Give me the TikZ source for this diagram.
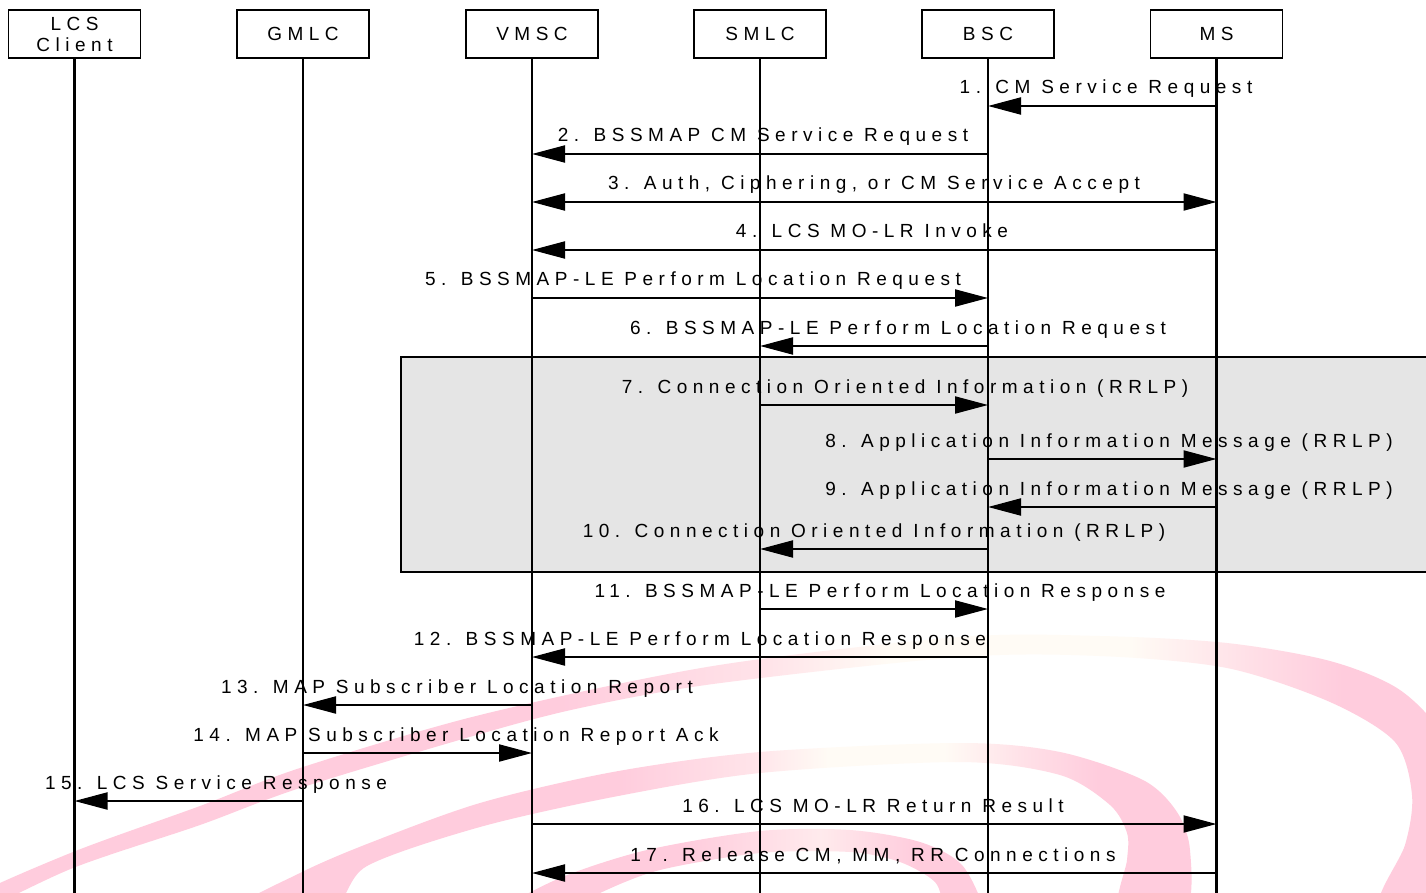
\documentclass[tikz,border=0pt]{standalone}
\usepackage{fontspec}
\setmainfont{Liberation Sans}[LetterSpace=29]
\usetikzlibrary{arrows.meta}

\definecolor{swpink}{RGB}{255,204,221}
\definecolor{swcream}{RGB}{255,251,245}
\definecolor{boxgrey}{RGB}{229,229,229}

% colour runs for the three watermark swooshes (left to right)
\pgfdeclarehorizontalshading{swooshouter}{100bp}{color(0bp)=(swpink); color(25bp)=(swpink); color(45bp)=(swpink); color(52bp)=(swpink!50!swcream); color(56bp)=(swcream); color(64bp)=(swcream); color(68bp)=(swpink!60!swcream); color(71bp)=(swpink); color(100bp)=(swpink)}
\pgfdeclarehorizontalshading{swooshmiddle}{100bp}{color(0bp)=(swpink); color(25bp)=(swpink); color(45bp)=(swpink); color(52bp)=(swpink!50!swcream); color(56bp)=(swcream); color(62bp)=(swcream); color(66bp)=(swpink!55!swcream); color(70bp)=(swpink); color(100bp)=(swpink)}
\pgfdeclarehorizontalshading{swooshinner}{100bp}{color(0bp)=(swpink); color(25bp)=(swpink); color(44bp)=(swpink); color(58bp)=(swpink!35!swcream); color(68bp)=(swpink); color(100bp)=(swpink)}

\begin{document}
\begin{tikzpicture}[x=1pt,y=-1pt,
  hdr/.style={draw, line width=1.8pt, fill=white, minimum width=132pt,
    minimum height=48pt, inner sep=0pt, align=center,
    font=\fontsize{19}{23}\selectfont},
  life/.style={line width=2.2pt},
  msg/.style={line width=2pt, -{Triangle[length=33pt,width=17pt]}},
  dmsg/.style={line width=2pt, {Triangle[length=33pt,width=17pt]}-{Triangle[length=33pt,width=17pt]}},
  lbl/.style={anchor=base, inner sep=0pt, font=\fontsize{19}{22}\selectfont}]

\useasboundingbox (0,0) rectangle (1426,893);
\begin{scope}
\clip (0,0) rectangle (1426,893);
\fill[white] (0,0) rectangle (1426,893);

% watermark swooshes
\shade[shading=swooshouter] plot[smooth cycle] coordinates {
  (-35,900) (73,852) (200,806) (300,768) (480,715) (713,666) (960,637)
  (1100,636) (1227,643) (1330,661) (1400,690) (1445,740) (1462,820) (1452,905)
  (1380,905) (1405,845) (1412,795) (1395,742) (1330,702) (1227,668)
  (1100,656) (960,657) (713,684) (580,708) (480,734) (300,788) (200,825)
  (73,868) (-35,918)};
\shade[shading=swooshmiddle] plot[smooth cycle] coordinates {
  (235,910) (300,873) (367,844) (480,803) (613,772) (760,752) (960,743)
  (1060,752) (1143,780) (1177,812) (1190,850) (1185,910)
  (1120,910) (1127,860) (1127,833) (1110,805) (1060,775) (960,762)
  (760,773) (613,797) (480,827) (367,866) (330,910)};
\shade[shading=swooshinner] plot[smooth cycle] coordinates {
  (505,910) (560,878) (647,850) (760,831) (850,830) (920,842) (962,865)
  (982,910) (948,910) (935,882) (900,862) (850,852) (760,853) (660,870)
  (600,893) (570,912)};

% grey frame around the RRLP exchange
\draw[line width=1.8pt, fill=boxgrey] (401,357) rectangle (1440,572);

% entities
\node[hdr] (lcs)  at (74.5,34) {LCS\\[-2pt]Client};
\node[hdr] (gmlc) at (303,34)  {GMLC};
\node[hdr] (vmsc) at (532,34)  {VMSC};
\node[hdr] (smlc) at (760,34)  {SMLC};
\node[hdr] (bsc)  at (988,34)  {BSC};
\node[hdr] (ms)   at (1216.5,34) {MS};

% lifelines
\coordinate (bottom) at (0,900);
\foreach \e in {lcs,gmlc,vmsc,smlc,bsc,ms}
  \draw[life] (\e.south) -- (\e.south |- bottom);

% message rows
\coordinate (r1) at (0,106);
\coordinate (r2) at (0,154);
\coordinate (r3) at (0,202);
\coordinate (r4) at (0,250);
\coordinate (r5) at (0,298);
\coordinate (r6) at (0,346);
\coordinate (r7) at (0,405);
\coordinate (r8) at (0,459);
\coordinate (r9) at (0,507);
\coordinate (r10) at (0,549);
\coordinate (r11) at (0,609);
\coordinate (r12) at (0,657);
\coordinate (r13) at (0,705);
\coordinate (r14) at (0,753);
\coordinate (r15) at (0,801);
\coordinate (r16) at (0,824);
\coordinate (r17) at (0,873);

\draw[msg]  (ms |- r1) -- (bsc |- r1);
\draw[msg]  (bsc |- r2) -- (vmsc |- r2);
\draw[dmsg] (vmsc |- r3) -- (ms |- r3);
\draw[msg]  (ms |- r4) -- (vmsc |- r4);
\draw[msg]  (vmsc |- r5) -- (bsc |- r5);
\draw[msg]  (bsc |- r6) -- (smlc |- r6);
\draw[msg]  (smlc |- r7) -- (bsc |- r7);
\draw[msg]  (bsc |- r8) -- (ms |- r8);
\draw[msg]  (ms |- r9) -- (bsc |- r9);
\draw[msg]  (bsc |- r10) -- (smlc |- r10);
\draw[msg]  (smlc |- r11) -- (bsc |- r11);
\draw[msg]  (bsc |- r12) -- (vmsc |- r12);
\draw[msg]  (vmsc |- r13) -- (gmlc |- r13);
\draw[msg]  (gmlc |- r14) -- (vmsc |- r14);
\draw[msg]  (gmlc |- r15) -- (lcs |- r15);
\draw[msg]  (vmsc |- r16) -- (ms |- r16);
\draw[msg]  (ms |- r17) -- (vmsc |- r17);

% message labels
\node[lbl] (t1)  at (1106,94)  {1. CM Service Request};
\node[lbl] (t2)  at (763,142)  {2. BSSMAP CM Service Request};
\node[lbl] (t3)  at (874,190)  {3. Auth, Ciphering, or CM Service Accept};
\node[lbl] (t4)  at (872,238)  {4. LCS MO-LR Invoke};
\node[lbl] (t5)  at (693,286)  {5. BSSMAP-LE Perform Location Request};
\node[lbl] (t6)  at (898,334)  {6. BSSMAP-LE Perform Location Request};
\node[lbl] (t7)  at (905,393)  {7. Connection Oriented Information (RRLP)};
\node[lbl] (t8)  at (1109,447) {8. Application Information Message (RRLP)};
\node[lbl] (t9)  at (1109,495) {9. Application Information Message (RRLP)};
\node[lbl] (t10) at (874,537)  {10. Connection Oriented Information (RRLP)};
\node[lbl] (t11) at (880,597)  {11. BSSMAP-LE Perform Location Response};
\node[lbl] (t12) at (700,645)  {12. BSSMAP-LE Perform Location Response};
\node[lbl] (t13) at (457,693)  {13. MAP Subscriber Location Report};
\node[lbl] (t14) at (456,741)  {14. MAP Subscriber Location Report Ack};
\node[lbl] (t15) at (216,789)  {15. LCS Service Response};
\node[lbl] (t16) at (873,812)  {16. LCS MO-LR Return Result};
\node[lbl] (t17) at (873,861)  {17. Release CM, MM, RR Connections};
\end{scope}
\end{tikzpicture}
\end{document}
